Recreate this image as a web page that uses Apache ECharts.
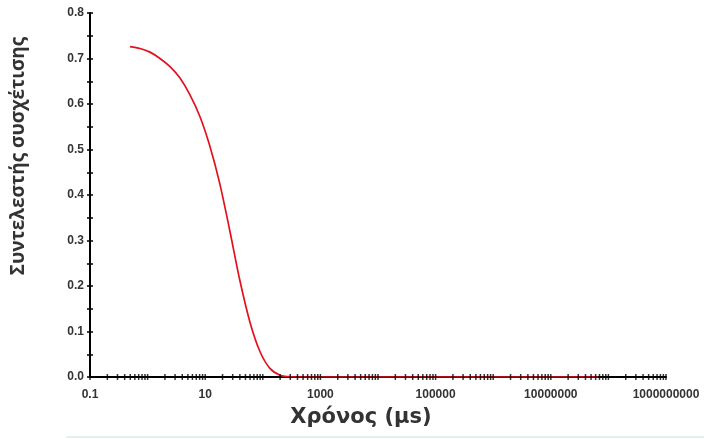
<!DOCTYPE html>
<html>
<head>
<meta charset="utf-8">
<script src="https://cdn.jsdelivr.net/npm/echarts@6/dist/echarts.min.js"></script>
<style>html,body{margin:0;padding:0;background:#fff}#c{width:704px;height:439px}</style>
</head>
<body>
<div id="c"></div>
<script>
// Correlation curve
const timeUs = [0.494, 0.738, 1.10, 1.64, 2.45, 3.65, 5.44, 8.12, 12, 17.9, 26.7, 40, 60, 90, 133, 199, 300, 450, 1000, 1e4, 1e5, 1e6, 1e7, 6.6e7];
const corr   = [0.726, 0.722, 0.714, 0.700, 0.682, 0.657, 0.620, 0.572, 0.508, 0.425, 0.322, 0.212, 0.120, 0.055, 0.019, 0.004, 0.0005, 0, 0, 0, 0, 0, 0, 0];
const xMin = 0.1, xMax = 1e9;
const decades = [0.1, 1, 10, 100, 1000, 1e4, 1e5, 1e6, 1e7, 1e8];
const minorMult = [1, 2, 3, 4, 5, 6, 7, 8, 9];
const xLabelShown = ['0.1', '10', '1000', '100000', '10000000', '1000000000'];
const yTicks = ['0.0','0.1','0.2','0.3','0.4','0.5','0.6','0.7','0.8'];
const xTitle = 'Χρόνος (μs)';
const yTitle = 'Συντελεστής συσχέτισης';

const tickMarks = [];
decades.forEach(d => minorMult.forEach(m => tickMarks.push([+(d * m).toPrecision(6), 0])));
tickMarks.push([xMax, 0]);

const chart = echarts.init(document.getElementById('c'));
chart.setOption({
  animation: false,
  backgroundColor: '#fff',
  grid: { left: 90, right: 38, top: 13, bottom: 62, containLabel: false },
  xAxis: {
    type: 'log', logBase: 10, min: xMin, max: xMax, splitNumber: 10,
    name: xTitle, nameLocation: 'middle', nameGap: 30,
    nameTextStyle: { fontFamily: 'DejaVu Sans', fontWeight: 'bold', fontSize: 21, color: '#333', padding: [0, 34, 0, 0] },
    axisLine: { lineStyle: { color: '#000', width: 2 } },
    axisTick: { show: false },
    minorTick: { show: false },
    splitLine: { show: false },
    axisLabel: { showMaxLabel: true, showMinLabel: true, margin: 12, fontFamily: 'Liberation Sans', fontWeight: 'bold', fontSize: 12, color: '#333',
      formatter: v => { const s = String(+(+v).toPrecision(6)); return xLabelShown.indexOf(s) >= 0 ? s : ''; } }
  },
  yAxis: [{
    type: 'value', min: 0, max: 0.8, interval: 0.1,
    name: yTitle, nameLocation: 'middle', nameGap: 62, nameRotate: 90,
    nameTextStyle: { fontFamily: 'Open Sans', fontWeight: 'bold', fontSize: 19, color: '#333', padding: [0, 0, 0, 78] },
    axisLine: { show: true, lineStyle: { color: '#000', width: 2 } },
    axisTick: { show: true, length: 3, lineStyle: { color: '#000', width: 1.5 } },
    minorTick: { show: true, splitNumber: 2, length: 3, lineStyle: { color: '#000', width: 1.5 } },
    splitLine: { show: false },
    axisLabel: { margin: 6, fontFamily: 'Liberation Sans', fontWeight: 'bold', fontSize: 12, color: '#333',
      formatter: (v) => yTicks[Math.round(v * 10)] }
  }, {
    type: 'value', min: 0, max: 0.8, interval: 0.1, position: 'left',
    axisLine: { show: false },
    axisTick: { show: true, inside: true, length: 3, lineStyle: { color: '#000', width: 1.5 } },
    minorTick: { show: true, splitNumber: 2, length: 3, lineStyle: { color: '#000', width: 1.5 } },
    splitLine: { show: false },
    axisLabel: { show: false }
  }],
  series: [{
    type: 'line', smooth: 0.3, showSymbol: false,
    data: timeUs.map((t, i) => [t, corr[i]]),
    lineStyle: { color: '#e3101e', width: 1.7 }, z: 2
  }, {
    type: 'scatter', data: tickMarks, symbol: 'rect', symbolSize: [1.5, 6],
    itemStyle: { color: '#000' }, silent: true, z: 3
  }],
  graphic: [{
    type: 'line', shape: { x1: 66, y1: 437, x2: 704, y2: 437 },
    style: { stroke: '#e4f2ef', lineWidth: 2 }
  }]
});
</script>
</body>
</html>
